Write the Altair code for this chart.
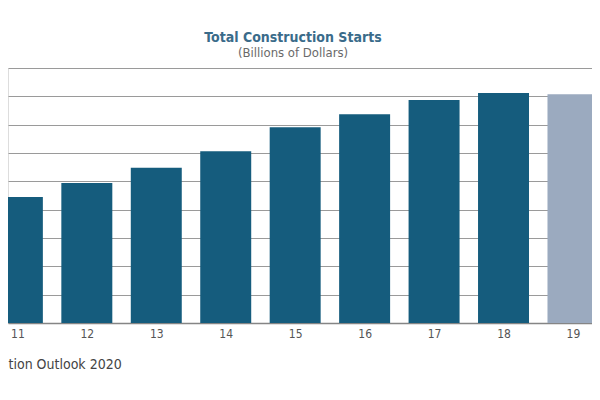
import altair as alt
import pandas as pd

years = [11, 12, 13, 14, 15, 16, 17, 18, 19]
values = [445, 494, 548, 606, 691, 737, 787, 812, 807]
kinds = ["Actual"] * 8 + ["Forecast"]
tick_values = list(range(0, 1000, 100))

df = pd.DataFrame({"year": years, "value": values, "kind": kinds})

FONT = "'Liberation Sans Narrow', 'DejaVu Sans Condensed', 'Roboto', sans-serif"
HALF = 0.367

bars = (
    alt.Chart(df)
    .transform_calculate(x0=f"datum.year - {HALF}", x1=f"datum.year + {HALF}")
    .mark_bar(clip=True)
    .encode(
        x=alt.X(
            "x0:Q",
            scale=alt.Scale(domain=[10.865, 19.274], nice=False, zero=False),
            axis=alt.Axis(
                values=years,
                format="d",
                grid=False,
                ticks=False,
                domain=True,
                domainColor="#858585",
                domainWidth=1.5,
                labelFont=FONT,
                labelFontSize=12,
                labelColor="#555555",
                labelPadding=5,
                title="tion Outlook 2020",
                titleFont=FONT,
                titleFontSize=14,
                titleFontWeight="normal",
                titleColor="#444444",
                titleAnchor="start",
                titleAlign="left",
                titleBaseline="middle",
                titleX=0,
                titleY=41,
            ),
        ),
        x2="x1:Q",
        y=alt.Y(
            "value:Q",
            scale=alt.Scale(domain=[0, 900], nice=False),
            axis=alt.Axis(
                values=tick_values,
                labels=False,
                ticks=False,
                domain=False,
                grid=True,
                gridColor="#9a9a9a",
                gridWidth=1,
                title=None,
            ),
        ),
        y2=alt.datum(0),
        color=alt.Color(
            "kind:N",
            scale=alt.Scale(domain=["Actual", "Forecast"], range=["#155C7D", "#9BAABF"]),
            legend=None,
        ),
    )
)

chart = (
    bars.properties(
        width=584,
        height=255,
        autosize=alt.AutoSizeParams(type="none"),
        padding={"left": 0, "top": 60, "right": 0, "bottom": 55},
        title=alt.TitleParams(
            text="Total Construction Starts",
            subtitle="(Billions of Dollars)",
            anchor="middle",
            dx=-7,
            offset=8,
            font=FONT,
            fontSize=14,
            fontWeight="bold",
            color="#3A6B8A",
            subtitleFont=FONT,
            subtitleFontSize=13,
            subtitleColor="#6A6A6A",
            subtitlePadding=2,
        ),
    )
    .configure_view(stroke=None)
    .configure(background="white")
)

chart.save("out.html", embed_options={"renderer": "svg", "actions": False})
